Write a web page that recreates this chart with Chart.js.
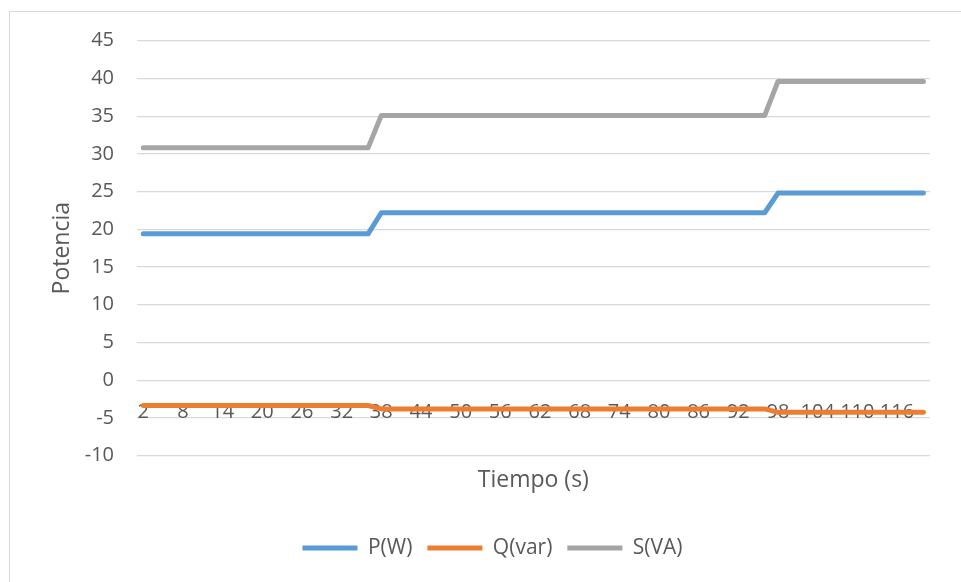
<!DOCTYPE html>
<html>
<head>
<meta charset="utf-8">
<script src="https://cdn.jsdelivr.net/npm/chart.js@4/dist/chart.umd.min.js"></script>
<style>
  html, body { margin: 0; padding: 0; background: #ffffff; }
  #wrap { position: relative; width: 961px; height: 582px; }
</style>
</head>
<body>
<div id="wrap"><canvas id="c" width="961" height="582"></canvas></div>
<script>
// Sampling instants (s)
const tiempo = [];
for (let t = 2; t <= 120; t += 2) tiempo.push(t);

// Power levels per interval: before 38 s, 38–96 s, from 98 s
const pLevels = [19.4, 22.2, 24.8];
const qLevels = [-3.35, -3.8, -4.25];
const sLevels = [30.8, 35.1, 39.6];

// Number of samples in each interval
const tramos = [18, 30, 12];

function escalones(levels) {
  const out = [];
  tramos.forEach((n, i) => { for (let k = 0; k < n; k++) out.push(levels[i]); });
  return out;
}

const potenciaP = escalones(pLevels);
const potenciaQ = escalones(qLevels);
const potenciaS = escalones(sLevels);

const yTicks = { min: -10, max: 45, step: 5 };

const FONT = "'Open Sans', 'Liberation Sans', sans-serif";
const TEXT = '#595959';

const frame = {
  id: 'frame',
  beforeDraw(chart) {
    const ctx = chart.ctx;
    ctx.save();
    ctx.fillStyle = '#ffffff';
    ctx.fillRect(0, 0, chart.width, chart.height);
    ctx.strokeStyle = '#d9d9d9';
    ctx.lineWidth = 1;
    ctx.strokeRect(9.5, 11.5, 1200, 1200);
    ctx.restore();
  }
};

function serie(label, data, color) {
  return {
    label, data,
    borderColor: color,
    backgroundColor: color,
    borderWidth: 5,
    borderCapStyle: 'round',
    borderJoinStyle: 'round',
    pointRadius: 0,
    pointHoverRadius: 0,
    tension: 0,
    xAxisID: 'x',
    yAxisID: 'y'
  };
}

new Chart(document.getElementById('c'), {
  type: 'line',
  data: {
    labels: tiempo,
    datasets: [
      serie('P(W)', potenciaP, '#5B9BD5'),
      serie('Q(var)', potenciaQ, '#ED7D31'),
      serie('S(VA)', potenciaS, '#A5A5A5')
    ]
  },
  plugins: [frame],
  options: {
    responsive: false,
    animation: false,
    events: [],
    layout: { padding: { left: 55, top: 40.7, right: 31, bottom: 13.5 } },
    plugins: {
      tooltip: { enabled: false },
      legend: {
        position: 'bottom',
        labels: {
          usePointStyle: true,
          pointStyle: 'line',
          pointStyleWidth: 55,
          padding: 15,
          color: TEXT,
          font: { family: FONT, size: 21 }
        }
      }
    },
    scales: {
      x: {
        type: 'category',
        offset: true,
        grid: { display: false, drawTicks: false },
        border: { display: false },
        ticks: { display: false },
        title: {
          display: true,
          text: 'Tiempo (s)',
          color: TEXT,
          font: { family: FONT, size: 23 },
          padding: { top: 0, bottom: 28.7 }
        },
        afterFit(scale) { scale.height = 66.8; }
      },
      x2: {
        type: 'category',
        labels: tiempo,
        offset: true,
        position: { y: 0 },
        z: 1,
        grid: { display: false, drawTicks: false },
        border: { display: false },
        ticks: {
          autoSkip: false,
          maxRotation: 0,
          minRotation: 0,
          padding: 19.8,
          color: TEXT,
          font: { family: FONT, size: 20 },
          callback(value, index) { return index % 3 === 0 ? this.getLabelForValue(value) : ''; }
        }
      },
      y: {
        min: yTicks.min,
        max: yTicks.max,
        grid: { color: '#d9d9d9', lineWidth: 1.2, drawTicks: false },
        border: { display: false },
        ticks: {
          stepSize: yTicks.step,
          padding: 22.7,
          color: TEXT,
          font: { family: FONT, size: 20 }
        },
        title: {
          display: true,
          text: 'Potencia',
          color: TEXT,
          font: { family: FONT, size: 23 },
          padding: { top: -6.8, bottom: 0 }
        },
        afterFit(scale) { scale.width = 81.7; }
      }
    }
  }
});
</script>
</body>
</html>
